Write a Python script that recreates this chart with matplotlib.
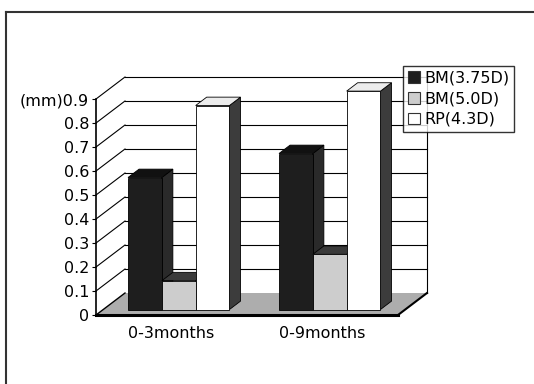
import numpy as np
import matplotlib
matplotlib.use('Agg')
import matplotlib.pyplot as plt
from matplotlib.patches import Polygon, Patch
from matplotlib.lines import Line2D
from matplotlib.transforms import IdentityTransform

categories = ['0-3months', '0-9months']
series_names = ['BM(3.75D)', 'BM(5.0D)', 'RP(4.3D)']
bm_375 = [0.55, 0.65]
bm_50 = [0.12, 0.23]
rp_43 = [0.85, 0.91]
yticks = [0, 0.1, 0.2, 0.3, 0.4, 0.5, 0.6, 0.7, 0.8, 0.9]
ytick_labels = ['0', '0.1', '0.2', '0.3', '0.4', '0.5', '0.6', '0.7', '0.8', '(mm)0.9']

values = [bm_375, bm_50, rp_43]
front_col = ['#1e1e1e', '#cdcdcd', '#ffffff']
top_col = ['#111111', '#3a3a3a', '#ececec']
side_col = ['#2a2a2a', '#555555', '#3c3c3c']

plt.rcParams['font.family'] = 'DejaVu Sans'
fig = plt.figure(figsize=(5.34, 3.84), dpi=100)
# front plane of the 3d box
ax = fig.add_axes([96 / 534, 1 - 315 / 384, 302 / 534, 216 / 384])
ax.set_xlim(0, 2)
ax.set_ylim(0, 0.9)
ax.patch.set_visible(False)
for s in ['top', 'right', 'bottom']:
    ax.spines[s].set_visible(False)
ax.spines['left'].set_linewidth(1.2)
ax.set_yticks(yticks)
ax.set_yticklabels(ytick_labels, fontsize=11.5)
ax.tick_params(axis='y', direction='out', length=3, pad=2)
ax.set_xticks([0.5, 1.5])
ax.set_xticklabels(categories, fontsize=11.5)
ax.tick_params(axis='x', length=0, pad=8)

DX, DY = 29, 22  # depth offset in pixels


def P(x, y, f):
    px, py = ax.transData.transform((x, y))
    return (px + DX * f, py + DY * f)


def poly(pts, fc, z, ec='black', lw=0.6):
    ax.add_patch(Polygon(pts, closed=True, facecolor=fc, edgecolor=ec, lw=lw,
                         transform=IdentityTransform(), clip_on=False, zorder=z))


def line(p1, p2, z, lw=0.8, c='black'):
    ax.add_line(Line2D([p1[0], p2[0]], [p1[1], p2[1]], color=c, lw=lw,
                       transform=IdentityTransform(), clip_on=False, zorder=z))


# back wall grid and side wall lines
for y in yticks[1:]:
    line(P(0, y, 1), P(2, y, 1), 1)
    line(P(0, y, 0), P(0, y, 1), 1)
line(P(2, 0, 1), P(2, 0.9, 1), 1)

# floor
poly([P(0, 0, 0), P(2, 0, 0), P(2, 0, 1), P(0, 0, 1)], '#adadad', 2, ec='none')
line(P(0, 0, 0), P(0, 0, 1), 2.5, lw=1.0)
line(P(0, 0, 0), P(2, 0, 0), 2.5, lw=2.2)
line(P(2, 0, 0), P(2, 0, 1), 2.5, lw=1.5)

# bars
w = 0.224
f0, f1 = 0.25, 0.63
z = 3
for j in range(len(categories)):
    for i, vals in enumerate(values):
        v = vals[j]
        xl = j + 0.5 - 1.5 * w + i * w
        xr = xl + w
        poly([P(xr, 0, f0), P(xr, v, f0), P(xr, v, f1), P(xr, 0, f1)], side_col[i], z)
        poly([P(xl, v, f0), P(xr, v, f0), P(xr, v, f1), P(xl, v, f1)], top_col[i], z + 0.1)
        poly([P(xl, 0, f0), P(xr, 0, f0), P(xr, v, f0), P(xl, v, f0)], front_col[i], z + 0.2)
        z += 1

handles = [Patch(facecolor=front_col[i], edgecolor='#333333', lw=0.8) for i in range(3)]
leg = fig.legend(handles, series_names, loc='upper left', bbox_to_anchor=(403 / 534, 1 - 66 / 384),
                 fontsize=11.5, frameon=True, fancybox=False, edgecolor='black',
                 handlelength=0.75, handleheight=0.75, handletextpad=0.3,
                 labelspacing=0.35, borderpad=0.3, borderaxespad=0)
leg.get_frame().set_linewidth(1.0)

# outer chart border
fig.add_artist(Line2D([6 / 534, 6 / 534], [0, 1 - 12 / 384], color='#333333', lw=1.5))
fig.add_artist(Line2D([6 / 534, 1], [1 - 12 / 384, 1 - 12 / 384], color='#333333', lw=1.5))

fig.savefig('out.png', dpi=100)
